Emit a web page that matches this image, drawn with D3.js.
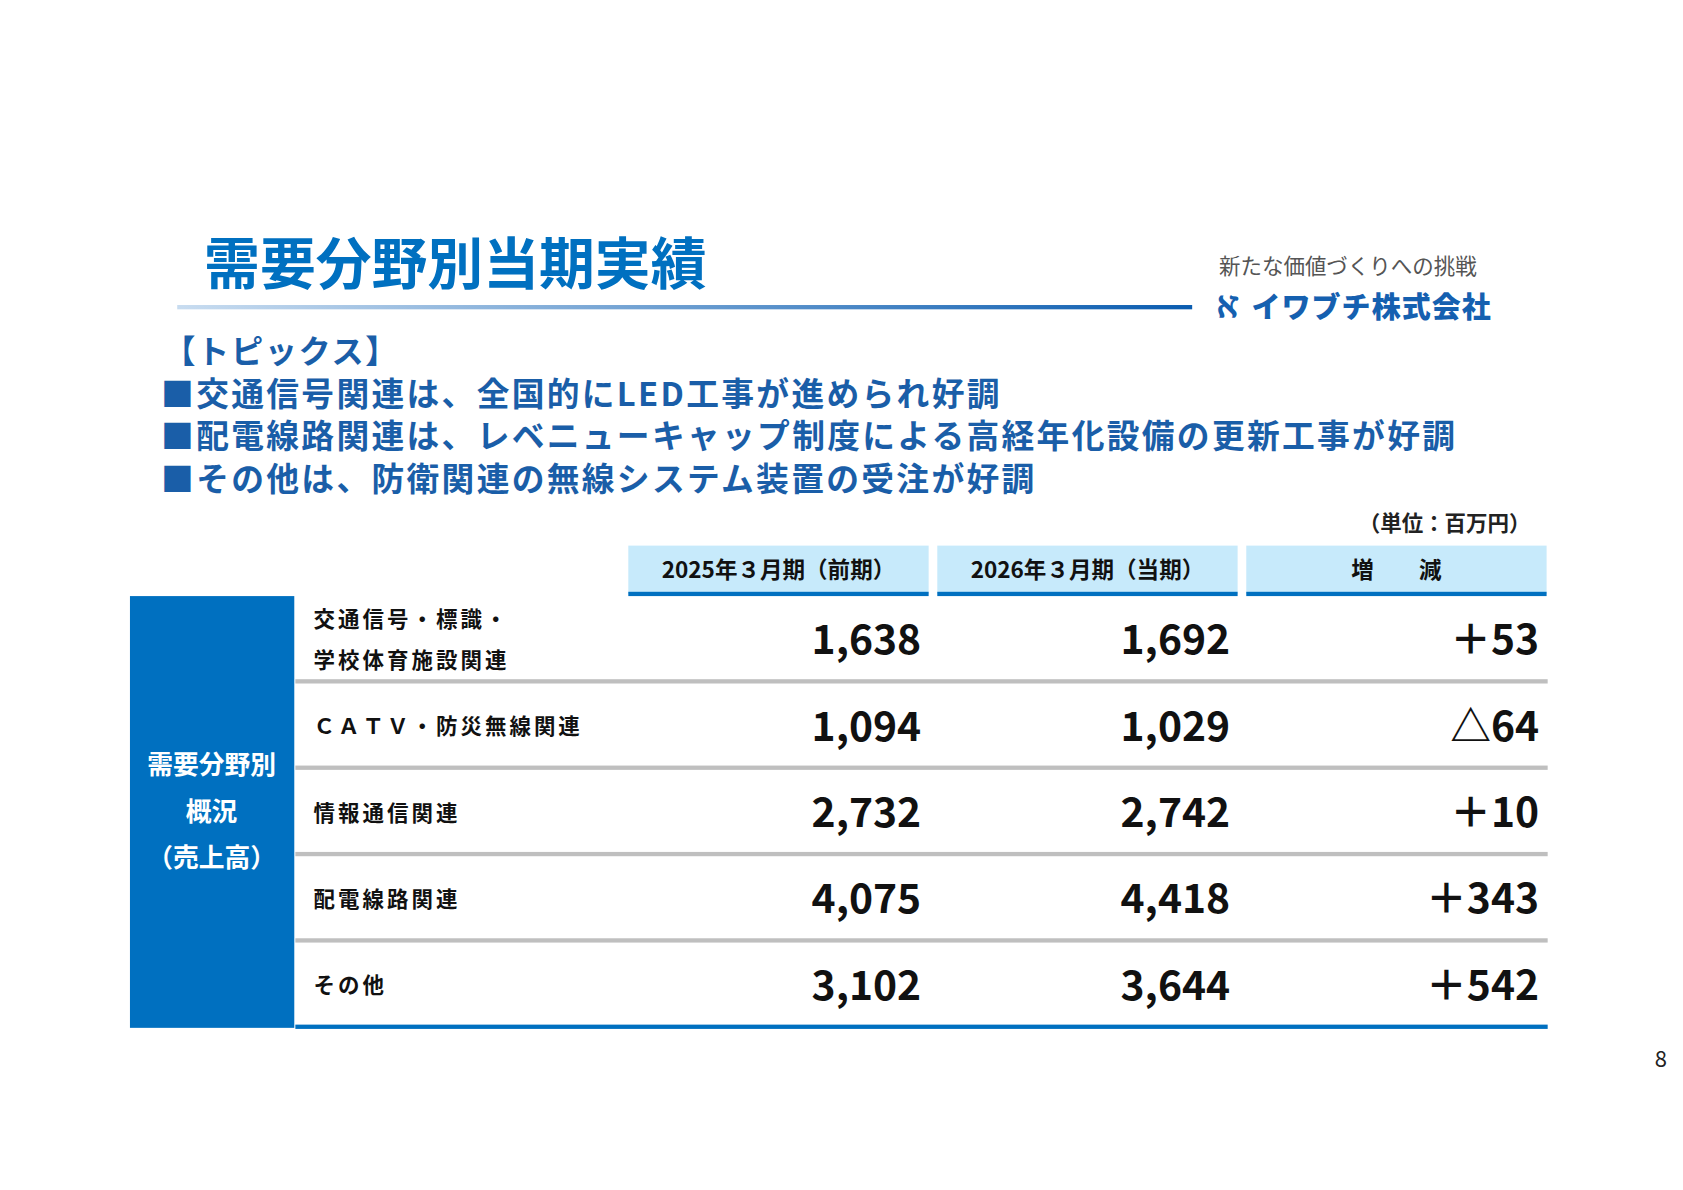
<!DOCTYPE html>
<html><head><meta charset="utf-8">
<script src="https://cdn.jsdelivr.net/npm/d3@7"></script>
<style>body{margin:0;background:#fff}svg{display:block}text{font-family:"Noto Sans CJK JP","Noto Sans",sans-serif}</style>
</head><body>
<script>
const categories = [["交通信号・標識・","学校体育施設関連"], ["ＣＡＴＶ・防災無線関連"], ["情報通信関連"], ["配電線路関連"], ["その他"]];
const prevValues = [1638, 1094, 2732, 4075, 3102];
const currValues = [1692, 1029, 2742, 4418, 3644];
const diffLabels = ["＋53", "△64", "＋10", "＋343", "＋542"];
const columns = ["2025年３月期（前期）", "2026年３月期（当期）", "増　　減"];
const topics = ["■交通信号関連は、全国的にLED工事が進められ好調",
  "■配電線路関連は、レベニューキャップ制度による高経年化設備の更新工事が好調",
  "■その他は、防衛関連の無線システム装置の受注が好調"];

const W = 1683, H = 1190, k = 1683 / 1567;
const blue = "#0070c0", dark = "#1a5ea8";
const svg = d3.select("body").append("svg").attr("width", W).attr("height", H);
const g = svg.append("g").attr("transform", `scale(${k})`);

const grad = svg.append("defs").append("linearGradient").attr("id", "gl");
grad.append("stop").attr("offset", "0%").attr("stop-color", "#c8dcf0");
grad.append("stop").attr("offset", "100%").attr("stop-color", "#0a5cb0");

g.append("text").attr("x", 190).attr("y", 264).attr("font-size", 52).attr("font-weight", 700)
  .attr("fill", blue).text("需要分野別当期実績");
g.append("rect").attr("x", 165).attr("y", 284).attr("width", 945).attr("height", 4).attr("fill", "url(#gl)");
g.append("text").attr("x", 1135).attr("y", 255).attr("font-size", 20).attr("fill", "#555").text("新たな価値づくりへの挑戦");
g.append("text").attr("x", 1130).attr("y", 296).attr("font-size", 27).attr("font-weight", 900)
  .attr("letter-spacing", 1).attr("fill", "#1560b0").text("ℵ イワブチ株式会社");

g.append("text").attr("x", 152).attr("y", 338).attr("font-size", 30).attr("font-weight", 700)
  .attr("letter-spacing", 1.5).attr("fill", dark).text("【トピックス】");
g.selectAll(".topic").data(topics).join("text")
  .attr("x", 150).attr("y", (d, i) => 378 + i * 39.5)
  .attr("font-size", 30.5).attr("letter-spacing", 2.15).attr("font-weight", 700).attr("fill", dark).text(d => d);

g.append("text").attr("x", 1425).attr("y", 494).attr("text-anchor", "end").attr("font-size", 20)
  .attr("font-weight", 700).attr("fill", "#222").text("（単位：百万円）");

// columns
const x = d3.scaleBand().domain(columns).range([585, 1440]).paddingInner(0.028);
const hdr = g.selectAll(".hdr").data(columns).join("g");
hdr.append("rect").attr("x", d => x(d)).attr("y", 508).attr("width", x.bandwidth()).attr("height", 45).attr("fill", "#c7eafb");
hdr.append("rect").attr("x", d => x(d)).attr("y", 551).attr("width", x.bandwidth()).attr("height", 4).attr("fill", blue);
hdr.append("text").attr("x", d => x(d) + x.bandwidth() / 2).attr("y", 538).attr("text-anchor", "middle")
  .attr("font-size", 21).attr("font-weight", 700).attr("fill", "#111").text(d => d);

// rows
const y = d3.scaleBand().domain(d3.range(categories.length)).range([555, 957]);
g.append("rect").attr("x", 121).attr("y", 555).attr("width", 153).attr("height", 402).attr("fill", blue);
["需要分野別", "概況", "（売上高）"].forEach((t, i) =>
  g.append("text").attr("x", 197).attr("y", 721 + i * 43).attr("text-anchor", "middle")
    .attr("font-size", 24).attr("font-weight", 700).attr("fill", "#fff").text(t));

const rows = g.selectAll(".row").data(categories).join("g");
rows.append("rect").attr("x", 275).attr("y", (d, i) => y(i) + y.bandwidth() - 3)
  .attr("width", 1166).attr("height", 4).attr("fill", (d, i) => i === categories.length - 1 ? blue : "#bfbfbf");
rows.each(function (d, i) {
  const r = d3.select(this), cy = y(i) + y.bandwidth() / 2;
  d.forEach((t, j) => r.append("text").attr("x", 292)
    .attr("y", cy + 8 + (j - (d.length - 1) / 2) * 38).attr("font-size", 20).attr("letter-spacing", 2.8)
    .attr("font-weight", 700).attr("fill", "#111").text(t));
  [d3.format(",")(prevValues[i]), d3.format(",")(currValues[i]), diffLabels[i]].forEach((v, j) =>
    r.append("text").attr("x", x(columns[j]) + x.bandwidth() - 7).attr("y", cy + 14)
      .attr("text-anchor", "end").attr("font-size", 38).attr("font-weight", 700).attr("fill", "#111").text(v));
});

svg.append("text").attr("x", 1667).attr("y", 1067).attr("text-anchor", "end").attr("font-size", 22)
  .attr("fill", "#222").attr("font-family", "Noto Sans").text("8");
</script>
</body></html>
